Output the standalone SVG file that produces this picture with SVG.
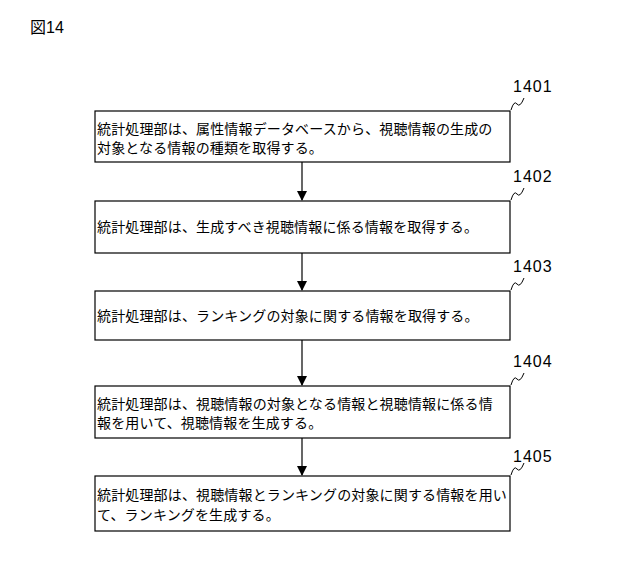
<svg xmlns="http://www.w3.org/2000/svg" width="640" height="573" viewBox="0 0 640 573">
<defs>
<style>
text{font-family:"Liberation Sans","Noto Sans CJK JP",sans-serif;fill:#000}
.t{font-size:14px;letter-spacing:0.15px}
.n{font-size:16px;letter-spacing:1px}
.box{fill:#fff;stroke:#000;stroke-width:1.2}
.c{stroke:#000;stroke-width:1.2;fill:none}
.sq{stroke:#000;stroke-width:1;fill:none}
</style>
<marker id="a" markerWidth="10" markerHeight="10" refX="9" refY="5" orient="auto" markerUnits="userSpaceOnUse">
<path d="M0,0 L10,5 L0,10 z" fill="#000"/>
</marker>
</defs>
<rect width="640" height="573" fill="#fff"/>
<text x="30" y="33" style="font-size:16px">図14</text>
<g id="connectors">
<line class="c" x1="302" y1="162" x2="302" y2="200" marker-end="url(#a)"/>
<line class="c" x1="302" y1="253" x2="302" y2="290" marker-end="url(#a)"/>
<line class="c" x1="302" y1="340" x2="302" y2="385" marker-end="url(#a)"/>
<line class="c" x1="302" y1="438" x2="302" y2="475" marker-end="url(#a)"/>
</g>
<g id="n1401">
<rect class="box" x="95" y="111" width="415" height="51"/>
<text class="t" x="97" y="134">統計処理部は、属性情報データベースから、視聴情報の生成の</text>
<text class="t" x="97" y="153">対象となる情報の種類を取得する。</text>
<text class="n" x="513" y="92">1401</text>
<path class="sq" d="M511,110 q3,-10 6,-6 t7,-6"/>
</g>
<g id="n1402">
<rect class="box" x="95" y="201" width="415" height="52"/>
<text class="t" x="97" y="232">統計処理部は、生成すべき視聴情報に係る情報を取得する。</text>
<text class="n" x="513" y="182">1402</text>
<path class="sq" d="M511,200 q3,-10 6,-6 t7,-6"/>
</g>
<g id="n1403">
<rect class="box" x="95" y="291" width="415" height="49"/>
<text class="t" x="97" y="321">統計処理部は、ランキングの対象に関する情報を取得する。</text>
<text class="n" x="513" y="272">1403</text>
<path class="sq" d="M511,290 q3,-10 6,-6 t7,-6"/>
</g>
<g id="n1404">
<rect class="box" x="95" y="386" width="415" height="52"/>
<text class="t" x="97" y="409">統計処理部は、視聴情報の対象となる情報と視聴情報に係る情</text>
<text class="t" x="97" y="428">報を用いて、視聴情報を生成する。</text>
<text class="n" x="513" y="367">1404</text>
<path class="sq" d="M511,385 q3,-10 6,-6 t7,-6"/>
</g>
<g id="n1405">
<rect class="box" x="95" y="476" width="415" height="55"/>
<text class="t" x="97" y="500">統計処理部は、視聴情報とランキングの対象に関する情報を用い</text>
<text class="t" x="97" y="520">て、ランキングを生成する。</text>
<text class="n" x="513" y="462">1405</text>
<path class="sq" d="M511,475 q3,-10 6,-6 t7,-6"/>
</g>
</svg>
